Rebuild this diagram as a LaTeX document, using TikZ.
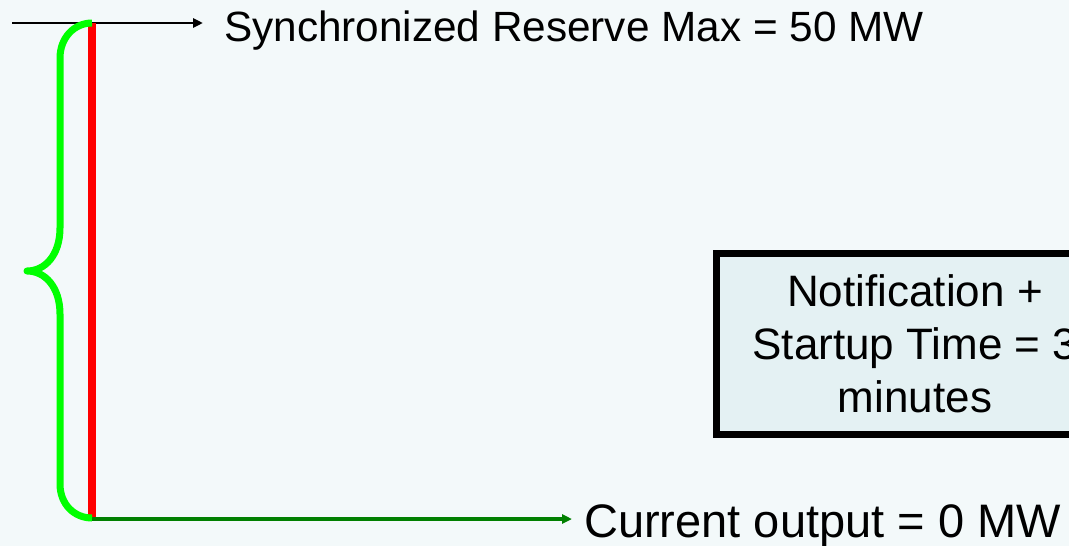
\documentclass[tikz,border=0pt]{standalone}
\usepackage{fontspec}
\setmainfont{Liberation Sans}
\usetikzlibrary{arrows.meta}
\definecolor{pagebg}{RGB}{243,249,250}
\definecolor{boxfill}{RGB}{228,241,243}
\definecolor{bracegreen}{RGB}{0,255,0}
\definecolor{outgreen}{RGB}{0,128,0}
\tikzset{
  label/.style={anchor=base west, inner sep=0pt, text=black},
  tip/.style={-{Triangle[length=10pt,width=9pt]}},
  timebox/.style={draw=black, line width=7pt, fill=boxfill, align=center,
    inner sep=0pt, minimum width=396.5pt, minimum height=181.5pt,
    font=\fontsize{44}{52.8}\selectfont},
  rangebar/.style={draw=red, line width=7.5pt},
  brace/.style={draw=bracegreen, line width=7pt, line join=round},
}
\begin{document}
\begin{tikzpicture}[x=1pt, y=-1pt]
  % page and clipping frame
  \fill[pagebg] (0,0) rectangle (1069,546);
  \useasboundingbox (0,0) rectangle (1069,546);
  \clip (0,0) rectangle (1069,546);

  % labels
  \node[label, font=\fontsize{42.3}{50}\selectfont] (rmax) at (224,41)
    {Synchronized Reserve Max = 50 MW};
  \node[label, font=\fontsize{47}{56}\selectfont] (cur) at (584,537)
    {Current output = 0 MW};

  % notification and startup time box
  \node[timebox] (timing) at (915,343.75)
    {Notification +\\Startup Time = 3\\minutes};

  % reference points on the range bar
  \coordinate (topstart) at (12,23);
  \coordinate (bartop) at (92,23);
  \coordinate (barbot) at (92,518);
  \coordinate (outstart) at (92,519);

  % maximum level arrow
  \draw[tip, line width=2.5pt] (topstart) -- ([xshift=-21pt]topstart -| rmax.west);

  % range bar
  \draw[rangebar] (bartop) -- (barbot);

  % current output arrow
  \draw[tip, draw=outgreen, fill=outgreen, line width=4pt]
    (outstart) -- ([xshift=-12pt]outstart -| cur.west);

  % curly brace spanning the range
  \draw[brace] (bartop)
    .. controls (74,23) and (60,38) .. (60,58)
    -- (60,228)
    .. controls (60,255) and (45,271) .. (27,271)
    .. controls (45,271) and (60,287) .. (60,314)
    -- (60,484)
    .. controls (60,504) and (74,518) .. (barbot);
\end{tikzpicture}
\end{document}
